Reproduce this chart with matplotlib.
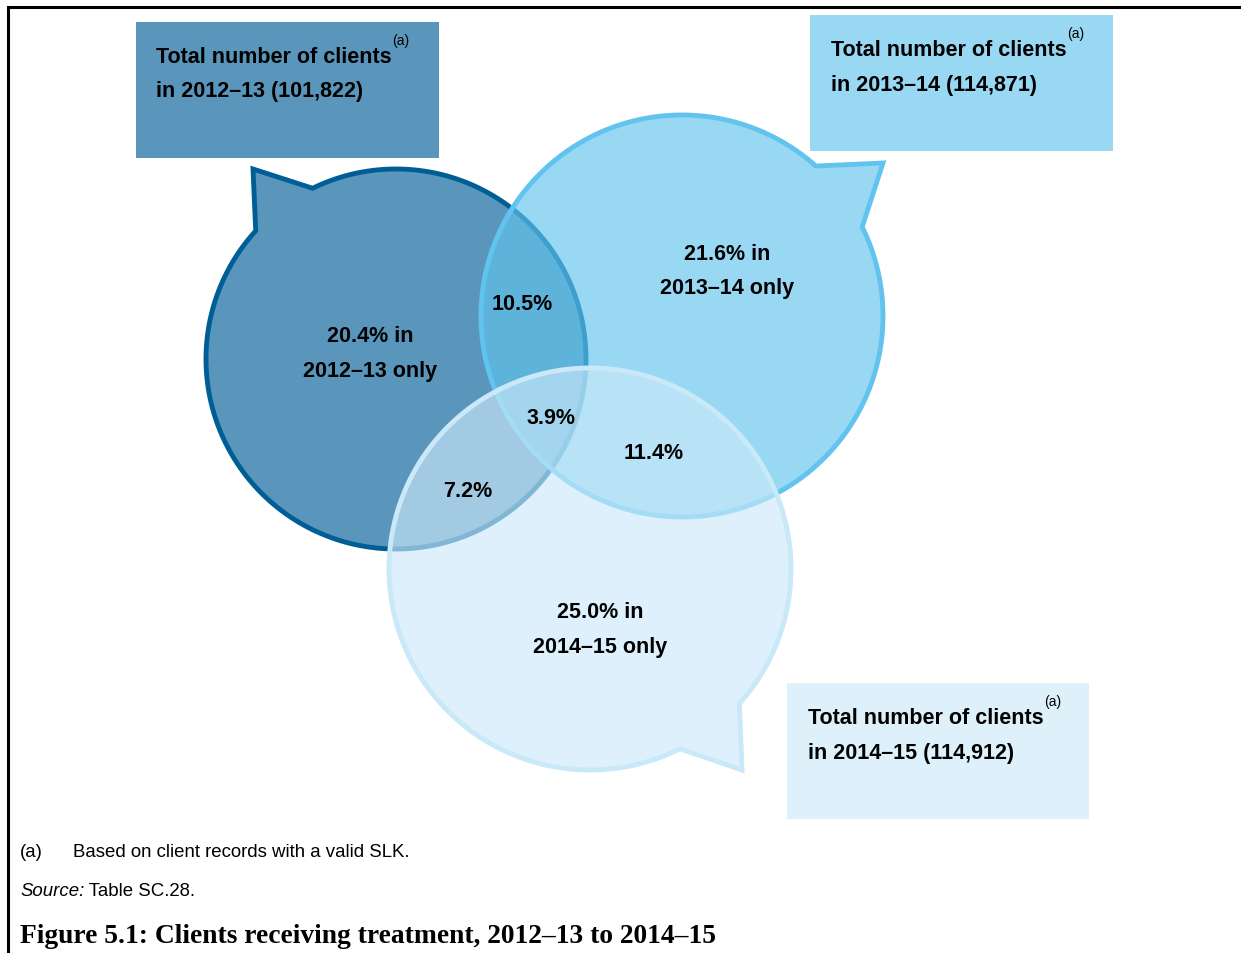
import numpy as np
import matplotlib
matplotlib.use("Agg")
import matplotlib.pyplot as plt
from matplotlib.path import Path
from matplotlib.patches import PathPatch, Rectangle

# ---------------- data ----------------
years = ["2012–13", "2013–14", "2014–15"]
totals = [101822, 114871, 114912]
only_pct = [20.4, 21.6, 25.0]
overlap_12 = 10.5
overlap_13 = 7.2
overlap_23 = 11.4
overlap_123 = 3.9
footnote = "Based on client records with a valid SLK."
source_text = "Table SC.28."
title = "Figure 5.1: Clients receiving treatment, 2012–13 to 2014–15"

# ---------------- layout ----------------
W, H = 1241, 954
fig = plt.figure(figsize=(W / 100, H / 100), dpi=100)
ax = fig.add_axes([0, 0, 1, 1])
ax.set_xlim(0, W)
ax.set_ylim(H, 0)
ax.axis("off")

SANS = ["Liberation Sans", "DejaVu Sans"]
SERIF = ["Liberation Serif", "DejaVu Serif"]

# frame (left and top lines)
ax.plot([8, 8, W], [H, 8, 8], color="black", lw=2.2, solid_capstyle="butt",
        solid_joinstyle="miter", zorder=0)

circles = [
    dict(c=(396, 360), r=190, p1=(257, 233), p2=(313, 190), tip=(253, 170),
         fc=(0.353, 0.588, 0.733, 1.0), ec="#005E96", lw=3.5),
    dict(c=(682, 317), r=201, p1=(815, 168), p2=(862, 228), tip=(883, 164),
         fc=(0.38, 0.765, 0.93, 0.65), ec="#62C4EE", lw=3.5),
    dict(c=(590, 570), r=201, p1=(740, 705), p2=(680, 750), tip=(742, 771),
         fc=(0.796, 0.914, 0.976, 0.64), ec="#C9E8F8", lw=3.5),
]


def bubble(c, r, p1, p2, tip):
    cx, cy = c
    a1 = np.arctan2(p1[1] - cy, p1[0] - cx)
    a2 = np.arctan2(p2[1] - cy, p2[0] - cx)
    if (a2 - a1) % (2 * np.pi) > np.pi:
        a1, a2 = a2, a1
    a1u = a2 + ((a1 - a2) % (2 * np.pi))
    t = np.linspace(a2, a1u, 400)
    pts = np.column_stack([cx + r * np.cos(t), cy + r * np.sin(t)])
    verts = np.vstack([pts, [tip], pts[:1]])
    codes = [Path.MOVETO] + [Path.LINETO] * (len(verts) - 2) + [Path.CLOSEPOLY]
    return Path(verts, codes)


for i, cd in enumerate(circles):
    p = bubble(cd["c"], cd["r"], cd["p1"], cd["p2"], cd["tip"])
    ax.add_patch(PathPatch(p, facecolor=cd["fc"], edgecolor=cd["ec"],
                           lw=cd["lw"], joinstyle="miter", zorder=2 + i))

# boxes with totals
boxes = [
    dict(x=136, y=23, w=303, h=136, fc="#5A96BB", tx=156, b1=63, b2=97),
    dict(x=810, y=16, w=303, h=136, fc="#98D8F3", tx=831, b1=56, b2=91),
    dict(x=787, y=684, w=302, h=136, fc="#DEF1FB", tx=808, b1=724, b2=759),
]
FS = 15.5
for yr, tot, bx in zip(years, totals, boxes):
    ax.add_patch(Rectangle((bx["x"], bx["y"]), bx["w"], bx["h"],
                           facecolor=bx["fc"], edgecolor="none", zorder=6))
    t1 = ax.text(bx["tx"], bx["b1"], "Total number of clients", fontsize=FS,
                 fontweight="bold", family=SANS, va="baseline", ha="left",
                 zorder=7)
    ax.annotate("(a)", xy=(1, 1), xycoords=t1, xytext=(0.5, -1),
                textcoords="offset points", fontsize=10, family=SANS,
                va="bottom", ha="left", zorder=7)
    ax.text(bx["tx"], bx["b2"], f"in {yr} ({tot:,})", fontsize=FS,
            fontweight="bold", family=SANS, va="baseline", ha="left", zorder=7)

# region labels
kw = dict(fontsize=FS, fontweight="bold", family=SANS, ha="center",
          va="center", zorder=8)
only_pos = [(370, 337), (727, 254), (600, 613)]
for yr, pct, (x, y) in zip(years, only_pct, only_pos):
    ax.text(x, y, f"{pct:.1f}% in", **kw)
    ax.text(x, y + 35, f"{yr} only", **kw)
ax.text(522, 305, f"{overlap_12:.1f}%", **kw)
ax.text(551, 419, f"{overlap_123:.1f}%", **kw)
ax.text(654, 454, f"{overlap_23:.1f}%", **kw)
ax.text(468, 492, f"{overlap_13:.1f}%", **kw)

# footnotes
FN = 13.4
ax.text(20, 857, "(a)", fontsize=FN, family=SANS, va="baseline", ha="left")
ax.text(73, 857, footnote, fontsize=FN, family=SANS, va="baseline", ha="left")
s = ax.text(20, 896, "Source:", fontsize=FN, family=SANS, style="italic",
            va="baseline", ha="left")
ax.annotate(" " + source_text, xy=(1, 0), xycoords=s, fontsize=FN,
            family=SANS, va="bottom", ha="left")
ax.text(20, 943, title, fontsize=19.8, family=SERIF, fontweight="bold",
        va="baseline", ha="left")

fig.savefig("out.png", dpi=100)
